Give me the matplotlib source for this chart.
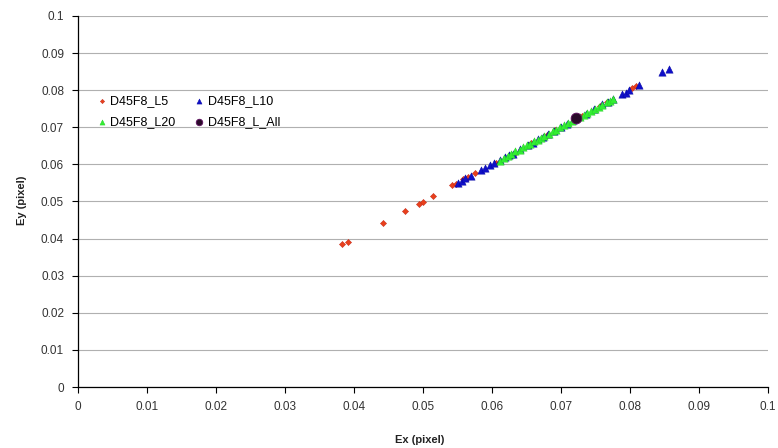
import matplotlib
matplotlib.use("Agg")
import matplotlib.pyplot as plt

plt.rcParams['font.family'] = ['Liberation Sans', 'DejaVu Sans']

l5_x = [0.0383, 0.0391, 0.0442, 0.0474, 0.0494, 0.0500, 0.0514, 0.0542, 0.0548, 0.0558,
        0.0565, 0.0576, 0.0606, 0.0633, 0.0657, 0.0680, 0.0692, 0.0730, 0.0757, 0.0766,
        0.0803, 0.0809]
l5_y = [0.0386, 0.0391, 0.0443, 0.0474, 0.0492, 0.0499, 0.0515, 0.0545, 0.0548, 0.0561,
        0.0567, 0.0577, 0.0605, 0.0632, 0.0657, 0.0680, 0.0693, 0.0731, 0.0758, 0.0768,
        0.0806, 0.0810]

l10_x = [0.0550, 0.0556, 0.0561, 0.0570, 0.0584, 0.0590, 0.0597, 0.0603, 0.0612, 0.0619,
         0.0624, 0.0630, 0.0640, 0.0652, 0.0660, 0.0667, 0.0674, 0.0681, 0.0690, 0.0700,
         0.0708, 0.0718, 0.0736, 0.0748, 0.0760, 0.0768, 0.0775, 0.0788, 0.0794, 0.0799,
         0.0813, 0.0847, 0.0857]
l10_y = [0.0551, 0.0556, 0.0562, 0.0570, 0.0585, 0.0591, 0.0598, 0.0603, 0.0613, 0.0619,
         0.0626, 0.0629, 0.0641, 0.0652, 0.0659, 0.0668, 0.0675, 0.0682, 0.0690, 0.0701,
         0.0708, 0.0720, 0.0737, 0.0748, 0.0762, 0.0768, 0.0776, 0.0789, 0.0793, 0.0800,
         0.0813, 0.0849, 0.0857]

l20_x = [0.0612, 0.0618, 0.0623, 0.0628, 0.0634, 0.0640, 0.0645, 0.0650, 0.0655, 0.0661,
         0.0666, 0.0671, 0.0676, 0.0682, 0.0688, 0.0693, 0.0699, 0.0704, 0.0710, 0.0716,
         0.0727, 0.0733, 0.0738, 0.0744, 0.0749, 0.0755, 0.0760, 0.0766, 0.0771, 0.0776]
l20_y = [0.0610, 0.0618, 0.0622, 0.0628, 0.0635, 0.0640, 0.0646, 0.0651, 0.0656, 0.0662,
         0.0667, 0.0672, 0.0677, 0.0683, 0.0689, 0.0694, 0.0700, 0.0706, 0.0711, 0.0717,
         0.0729, 0.0734, 0.0739, 0.0745, 0.0750, 0.0756, 0.0761, 0.0767, 0.0772, 0.0777]

all_x = [0.0722]
all_y = [0.0725]

x_ticks = [0, 0.01, 0.02, 0.03, 0.04, 0.05, 0.06, 0.07, 0.08, 0.09, 0.1]
y_ticks = [0, 0.01, 0.02, 0.03, 0.04, 0.05, 0.06, 0.07, 0.08, 0.09, 0.1]
tick_labels = ['0', '0.01', '0.02', '0.03', '0.04', '0.05', '0.06', '0.07', '0.08', '0.09', '0.1']

fig = plt.figure(figsize=(7.78, 4.48), dpi=100)
ax = fig.add_axes([78/778, 1-387/448, 690/778, 371/448])

h1 = ax.scatter(l5_x, l5_y, marker='D', s=10, color='#e8401c', edgecolors='#c02010', linewidths=0.3, label='D45F8_L5', zorder=3)
h2 = ax.scatter(l10_x, l10_y, marker='^', s=28, color='#1010c8', edgecolors='#0000a0', linewidths=0.3, label='D45F8_L10', zorder=3)
h3 = ax.scatter(l20_x, l20_y, marker='^', s=28, color='#33ee33', edgecolors='#22cc22', linewidths=0.3, label='D45F8_L20', zorder=3)
h4 = ax.scatter(all_x, all_y, marker='o', s=60, color='#2a0a2a', edgecolors='#601060', linewidths=0.6, label='D45F8_L_All', zorder=4)

ax.set_xlim(0, 0.1)
ax.set_ylim(0, 0.1)
ax.set_xticks(x_ticks)
ax.set_xticklabels(tick_labels)
ax.set_yticks(y_ticks)
ax.set_yticklabels(tick_labels)
ax.yaxis.grid(True, color='#b0b0b0', linewidth=0.8)
ax.set_axisbelow(True)
for s in ['top', 'right']:
    ax.spines[s].set_visible(False)
for s in ['left', 'bottom']:
    ax.spines[s].set_color('black')
    ax.spines[s].set_linewidth(0.9)
ax.tick_params(axis='both', direction='out', length=4, width=0.8, labelsize=8.5, colors='black', labelcolor='#333333', pad=6)

fig.text(22/778, 1-200/448, 'Ey (pixel)', rotation=90, ha='center', va='center', fontsize=8, fontweight='bold', color='#222222')
fig.text(420/778, 1-440/448, 'Ex (pixel)', ha='center', va='center', fontsize=8, fontweight='bold', color='#222222')

leg = ax.legend([h1, h3, h2, h4], ['D45F8_L5', 'D45F8_L20', 'D45F8_L10', 'D45F8_L_All'],
          ncol=2, frameon=False, loc='upper left', bbox_to_anchor=(94/778, 1-95/448),
          bbox_transform=fig.transFigure, fontsize=9, handletextpad=0.1, handlelength=1.2,
          columnspacing=1.3, labelspacing=0.75, markerscale=0.7, borderaxespad=0, borderpad=0)
leg.legend_handles[3].set_sizes([22])

fig.savefig('out.png', dpi=100)
